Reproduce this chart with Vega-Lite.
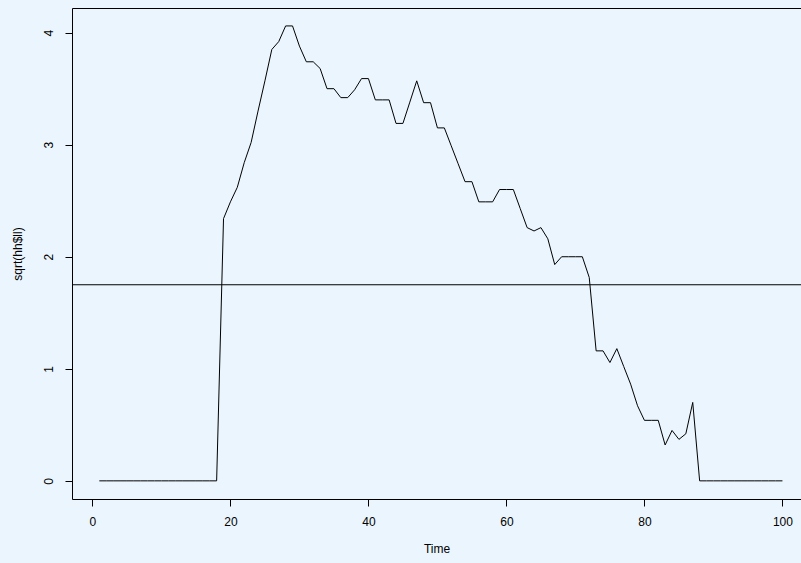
{
  "$schema": "https://vega.github.io/schema/vega-lite/v6.json",
  "autosize": {"type": "none"},
  "width": 729,
  "height": 491,
  "padding": {"left": 72, "top": 8, "right": 0, "bottom": 64},
  "background": "#ebf5fd",
  "config": {
    "view": {"stroke": "#000000", "strokeWidth": 1, "fill": null},
    "font": "Liberation Sans",
    "axis": {
      "grid": false,
      "domain": false,
      "ticks": true,
      "tickColor": "#000000",
      "tickSize": 7,
      "tickWidth": 1,
      "labelColor": "#000000",
      "labelFontSize": 12,
      "labelFont": "Liberation Sans",
      "titleColor": "#000000",
      "titleFontSize": 12,
      "titleFont": "Liberation Sans",
      "titleFontWeight": "normal"
    }
  },
  "datasets": {
    "series": [
      {"t": 1, "v": 0}, {"t": 2, "v": 0}, {"t": 3, "v": 0}, {"t": 4, "v": 0}, {"t": 5, "v": 0},
      {"t": 6, "v": 0}, {"t": 7, "v": 0}, {"t": 8, "v": 0}, {"t": 9, "v": 0}, {"t": 10, "v": 0},
      {"t": 11, "v": 0}, {"t": 12, "v": 0}, {"t": 13, "v": 0}, {"t": 14, "v": 0}, {"t": 15, "v": 0},
      {"t": 16, "v": 0}, {"t": 17, "v": 0}, {"t": 18, "v": 0}, {"t": 19, "v": 2.34}, {"t": 20, "v": 2.49},
      {"t": 21, "v": 2.62}, {"t": 22, "v": 2.84}, {"t": 23, "v": 3.02}, {"t": 24, "v": 3.3}, {"t": 25, "v": 3.57},
      {"t": 26, "v": 3.85}, {"t": 27, "v": 3.92}, {"t": 28, "v": 4.06}, {"t": 29, "v": 4.06}, {"t": 30, "v": 3.88},
      {"t": 31, "v": 3.74}, {"t": 32, "v": 3.74}, {"t": 33, "v": 3.68}, {"t": 34, "v": 3.5}, {"t": 35, "v": 3.5},
      {"t": 36, "v": 3.42}, {"t": 37, "v": 3.42}, {"t": 38, "v": 3.49}, {"t": 39, "v": 3.59}, {"t": 40, "v": 3.59},
      {"t": 41, "v": 3.4}, {"t": 42, "v": 3.4}, {"t": 43, "v": 3.4}, {"t": 44, "v": 3.19}, {"t": 45, "v": 3.19},
      {"t": 46, "v": 3.38}, {"t": 47, "v": 3.57}, {"t": 48, "v": 3.375}, {"t": 49, "v": 3.375}, {"t": 50, "v": 3.15},
      {"t": 51, "v": 3.15}, {"t": 52, "v": 2.99}, {"t": 53, "v": 2.83}, {"t": 54, "v": 2.67}, {"t": 55, "v": 2.67},
      {"t": 56, "v": 2.49}, {"t": 57, "v": 2.49}, {"t": 58, "v": 2.49}, {"t": 59, "v": 2.6}, {"t": 60, "v": 2.6},
      {"t": 61, "v": 2.6}, {"t": 62, "v": 2.43}, {"t": 63, "v": 2.26}, {"t": 64, "v": 2.23}, {"t": 65, "v": 2.26},
      {"t": 66, "v": 2.16}, {"t": 67, "v": 1.93}, {"t": 68, "v": 2.0}, {"t": 69, "v": 2.0}, {"t": 70, "v": 2.0},
      {"t": 71, "v": 2.0}, {"t": 72, "v": 1.815}, {"t": 73, "v": 1.16}, {"t": 74, "v": 1.16}, {"t": 75, "v": 1.056},
      {"t": 76, "v": 1.18}, {"t": 77, "v": 1.02}, {"t": 78, "v": 0.863}, {"t": 79, "v": 0.67}, {"t": 80, "v": 0.54},
      {"t": 81, "v": 0.54}, {"t": 82, "v": 0.54}, {"t": 83, "v": 0.32}, {"t": 84, "v": 0.45}, {"t": 85, "v": 0.37},
      {"t": 86, "v": 0.42}, {"t": 87, "v": 0.7}, {"t": 88, "v": 0}, {"t": 89, "v": 0}, {"t": 90, "v": 0},
      {"t": 91, "v": 0}, {"t": 92, "v": 0}, {"t": 93, "v": 0}, {"t": 94, "v": 0}, {"t": 95, "v": 0},
      {"t": 96, "v": 0}, {"t": 97, "v": 0}, {"t": 98, "v": 0}, {"t": 99, "v": 0}, {"t": 100, "v": 0}
    ],
    "hline": [{"v": 1.75}]
  },
  "layer": [
    {
      "data": {"name": "series"},
      "mark": {"type": "line", "color": "#000000", "strokeWidth": 1, "clip": true},
      "encoding": {
        "x": {
          "field": "t", "type": "quantitative",
          "scale": {"domain": [-2.96, 102.69], "nice": false, "zero": false},
          "axis": {"title": "Time", "values": [0, 20, 40, 60, 80, 100], "format": "d", "labelPadding": 10, "titleY": 49, "titleBaseline": "middle"}
        },
        "y": {
          "field": "v", "type": "quantitative",
          "scale": {"domain": [-0.162, 4.22], "nice": false, "zero": false},
          "axis": {"title": "sqrt(hh$ll)", "values": [0, 1, 2, 3, 4], "format": "d", "labelAngle": -90, "labelAlign": "center", "labelBaseline": "bottom", "labelPadding": 10, "titleX": -55, "titleBaseline": "middle"}
        }
      }
    },
    {
      "data": {"name": "hline"},
      "mark": {"type": "rule", "color": "#000000", "strokeWidth": 1},
      "encoding": {"y": {"field": "v", "type": "quantitative"}}
    }
  ]
}
